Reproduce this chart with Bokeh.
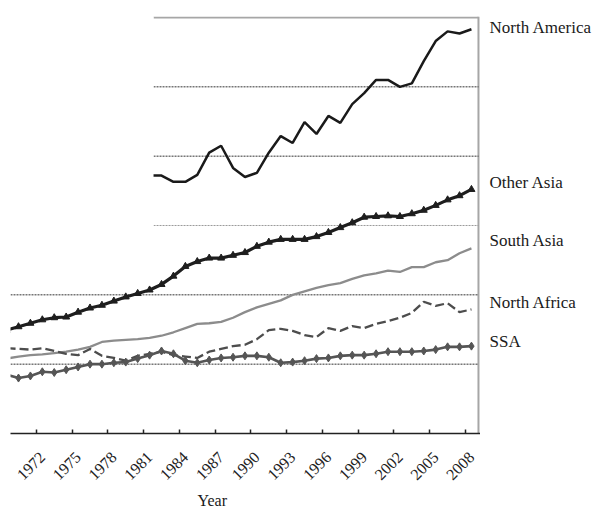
import math
from bokeh.plotting import figure
from bokeh.layouts import row
from bokeh.models import Range1d, FixedTicker, Span, BoxAnnotation, Title
from bokeh.embed import file_html
from bokeh.resources import INLINE

# ---- data ----
years = list(range(1969, 2009))
na_years = list(range(1981, 2009))

north_america = [3.72, 3.72, 3.63, 3.63, 3.73, 4.05, 4.15, 3.83, 3.70, 3.76,
                 4.05, 4.29, 4.19, 4.49, 4.32, 4.58, 4.48, 4.75, 4.91, 5.10,
                 5.10, 5.00, 5.05, 5.37, 5.66, 5.80, 5.77, 5.83]

other_asia = [1.49, 1.54, 1.59, 1.64, 1.67, 1.68, 1.75, 1.81, 1.85, 1.91,
              1.97, 2.02, 2.07, 2.15, 2.27, 2.41, 2.48, 2.53, 2.53, 2.57,
              2.61, 2.70, 2.76, 2.80, 2.80, 2.80, 2.84, 2.90, 2.97, 3.04,
              3.12, 3.13, 3.14, 3.13, 3.17, 3.22, 3.29, 3.37, 3.43, 3.52]

south_asia = [1.08, 1.11, 1.13, 1.14, 1.16, 1.18, 1.21, 1.25, 1.32, 1.34,
              1.35, 1.36, 1.38, 1.41, 1.46, 1.52, 1.58, 1.59, 1.61, 1.67,
              1.75, 1.82, 1.87, 1.92, 2.00, 2.05, 2.10, 2.14, 2.17, 2.23,
              2.28, 2.31, 2.35, 2.33, 2.40, 2.40, 2.47, 2.50, 2.60, 2.67]

north_africa = [1.23, 1.22, 1.21, 1.23, 1.19, 1.15, 1.13, 1.22, 1.12, 1.09,
                1.05, 1.12, 1.15, 1.18, 1.13, 1.11, 1.09, 1.18, 1.22, 1.26,
                1.28, 1.36, 1.49, 1.51, 1.48, 1.42, 1.39, 1.52, 1.48, 1.55,
                1.52, 1.58, 1.62, 1.67, 1.74, 1.90, 1.84, 1.88, 1.75, 1.79]

ssa = [0.85, 0.80, 0.83, 0.89, 0.88, 0.92, 0.96, 1.00, 1.00, 1.02,
       1.03, 1.08, 1.13, 1.19, 1.15, 1.05, 1.02, 1.06, 1.09, 1.10,
       1.12, 1.12, 1.10, 1.02, 1.03, 1.05, 1.08, 1.09, 1.12, 1.13,
       1.13, 1.15, 1.18, 1.18, 1.18, 1.19, 1.21, 1.25, 1.25, 1.26]

tick_years = list(range(1972, 2009, 3))
tick_labels = [str(y) for y in tick_years]
grid_levels = [1, 2, 3, 4, 5]
top_level = 6
series_names = ["North America", "Other Asia", "South Asia", "North Africa", "SSA"]

SERIF = "Liberation Serif"
X_START = 1969.33
X_END = 2008.59          # right edge of the chart box
BLANK_RIGHT = 1981.33    # the upper-left part of the box is left blank
Y_RANGE = Range1d(0, 6.0144)

p = figure(width=480, height=510, output_backend="svg", toolbar_location=None,
           x_range=Range1d(X_START, 2008.76), y_range=Y_RANGE,
           y_axis_location=None, min_border_left=10, min_border_right=0,
           min_border_top=16, min_border_bottom=75)
p.title.visible = False
p.outline_line_color = None
p.grid.visible = False
p.background_fill_color = "white"
p.border_fill_color = "white"

ax = p.xaxis[0]
ax.ticker = FixedTicker(ticks=tick_years, minor_ticks=[t - 0.5 for t in tick_years])
ax.major_label_overrides = {y: s for y, s in zip(tick_years, tick_labels)}
ax.major_label_orientation = math.pi / 4
ax.major_tick_line_color = None
ax.major_tick_in = 0
ax.major_tick_out = 0
ax.minor_tick_in = 4
ax.minor_tick_out = 0
ax.minor_tick_line_color = "#222222"
ax.minor_tick_line_width = 1.5
ax.axis_line_color = "#222222"
ax.axis_line_width = 1.5
ax.major_label_text_font = SERIF
ax.major_label_text_font_size = "16px"
ax.major_label_text_color = "#222222"
ax.major_label_standoff = 21

# dotted reference lines (drawn first, so they sit beneath the series)
dark_levels = [g for g in grid_levels if g != 3]
dark_x0 = [X_START if g < 3 else BLANK_RIGHT for g in dark_levels]
p.segment(x0=dark_x0, x1=[X_END] * len(dark_levels),
          y0=dark_levels, y1=dark_levels, line_color="#333333",
          line_dash="2 1", line_width=1)
p.segment(x0=[BLANK_RIGHT], x1=[X_END], y0=[3], y1=[3], line_color="#9a9a9a",
          line_dash="2 1", line_width=1)
p.segment(x0=[BLANK_RIGHT], x1=[X_END], y0=[top_level], y1=[top_level],
          line_color="#a6a6a6", line_width=2)
p.add_layout(Span(location=X_END, dimension="height", line_color="#a6a6a6",
                  line_width=2, level="underlay"))

# series
p.line(na_years, north_america, line_color="#1a1a1a", line_width=2.5)

p.line(years, other_asia, line_color="#1e1e1e", line_width=3.2)
p.scatter(years, other_asia, marker="triangle", size=7,
          fill_color="#1e1e1e", line_color="#1e1e1e")

p.line(years, south_asia, line_color="#8c8c8c", line_width=2.3)

p.line(years, north_africa, line_color="#4d4d4d", line_width=2.3, line_dash="9 4")

p.line(years, ssa, line_color="#555555", line_width=2.6)
p.scatter(years, ssa, marker="diamond", size=8,
          fill_color="#555555", line_color="#555555")

# blank upper-left region, as in the reference
p.add_layout(BoxAnnotation(left=1960, right=BLANK_RIGHT, bottom=2.9, top=7,
                           fill_color="white", fill_alpha=1.0,
                           line_color=None, level="overlay"))

p.add_layout(Title(text="Year", align="left", offset=187, text_font=SERIF,
                   text_font_size="16px", text_font_style="normal",
                   text_color="#1a1a1a", standoff=4), "below")

# right-hand series names, on the same vertical scale
q = figure(width=118, height=510, output_backend="svg", toolbar_location=None,
           x_range=Range1d(0, 118), y_range=Y_RANGE,
           x_axis_location=None, y_axis_location=None,
           min_border_left=0, min_border_right=0,
           min_border_top=16, min_border_bottom=75)
q.title.visible = False
q.outline_line_color = None
q.grid.visible = False
label_levels = [5.86, 3.62, 2.79, 1.89, 1.32]
q.text(x=[9] * len(series_names), y=label_levels, text=series_names,
       text_font=SERIF, text_font_size="17px", text_baseline="middle",
       text_color="#1a1a1a")

layout = row(p, q)
open("out.html", "w").write(file_html(layout, INLINE))
